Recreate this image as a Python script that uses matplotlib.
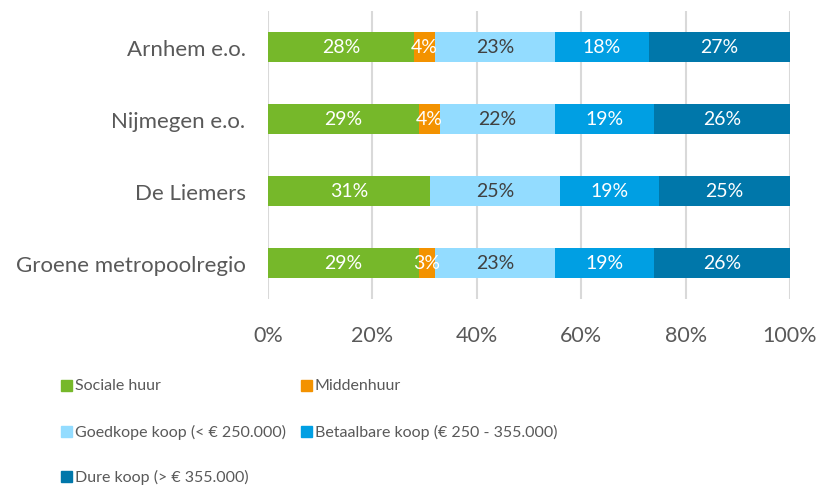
import numpy as np
import matplotlib.pyplot as plt
from matplotlib.patches import Rectangle

plt.rcParams['font.family'] = ['Lato', 'DejaVu Sans']

regions = ["Arnhem e.o.", "Nijmegen e.o.", "De Liemers", "Groene metropoolregio"]
series = ["Sociale huur", "Middenhuur", "Goedkope koop (< € 250.000)",
          "Betaalbare koop (€ 250 - 355.000)", "Dure koop (> € 355.000)"]
sociale = [28, 29, 31, 29]
midden = [4, 4, 0, 3]
goedkoop = [23, 22, 25, 23]
betaalbaar = [18, 19, 19, 19]
duur = [27, 26, 25, 26]
ticks = [0, 20, 40, 60, 80, 100]

colors = ["#76B82A", "#F39200", "#93DCFF", "#009FE3", "#0077AA"]
label_colors = ["white", "white", "#404040", "white", "white"]
grey = "#595959"

data = np.array([sociale, midden, goedkoop, betaalbaar, duur], dtype=float)

fig = plt.figure(figsize=(8.19, 4.89), dpi=100)
ax = fig.add_axes([0.327, 0.3865, 0.6376, 0.589])

y = np.arange(len(regions))[::-1]
left = np.zeros(len(regions))
for i, vals in enumerate(data):
    ax.barh(y, vals, left=left, height=0.41, color=colors[i], zorder=3)
    for yy, l, v in zip(y, left, vals):
        if v > 0:
            ax.text(l + v / 2, yy, f"{v:.0f}%", ha='center', va='center',
                    color=label_colors[i], fontsize=14, zorder=4)
    left += vals

ax.set_xlim(0, 100)
ax.set_ylim(-0.5, 3.5)
ax.set_xticks(ticks)
ax.set_xticklabels([f"{t}%" for t in ticks])
ax.set_yticks(y)
ax.set_yticklabels(regions)
ax.tick_params(length=0, colors=grey)
ax.tick_params(axis='x', labelsize=15.5, pad=19)
ax.tick_params(axis='y', labelsize=16, pad=16)
ax.grid(axis='x', color='#D9D9D9', linewidth=1.5, zorder=0)
for s in ax.spines.values():
    s.set_visible(False)

# legend laid out in rows of two
W, H = 819, 489
cols_x = [61, 301]
rows_y = [386, 432, 477]
for k, name in enumerate(series):
    cx = cols_x[k % 2]
    cy = rows_y[k // 2]
    fig.patches.append(Rectangle((cx / W, 1 - (cy + 5.5) / H), 11 / W, 11 / H,
                                 transform=fig.transFigure, color=colors[k]))
    fig.text((cx + 14) / W, 1 - cy / H, name, ha='left', va='center',
             fontsize=11.5, color=grey)

fig.savefig("out.png", dpi=100)
